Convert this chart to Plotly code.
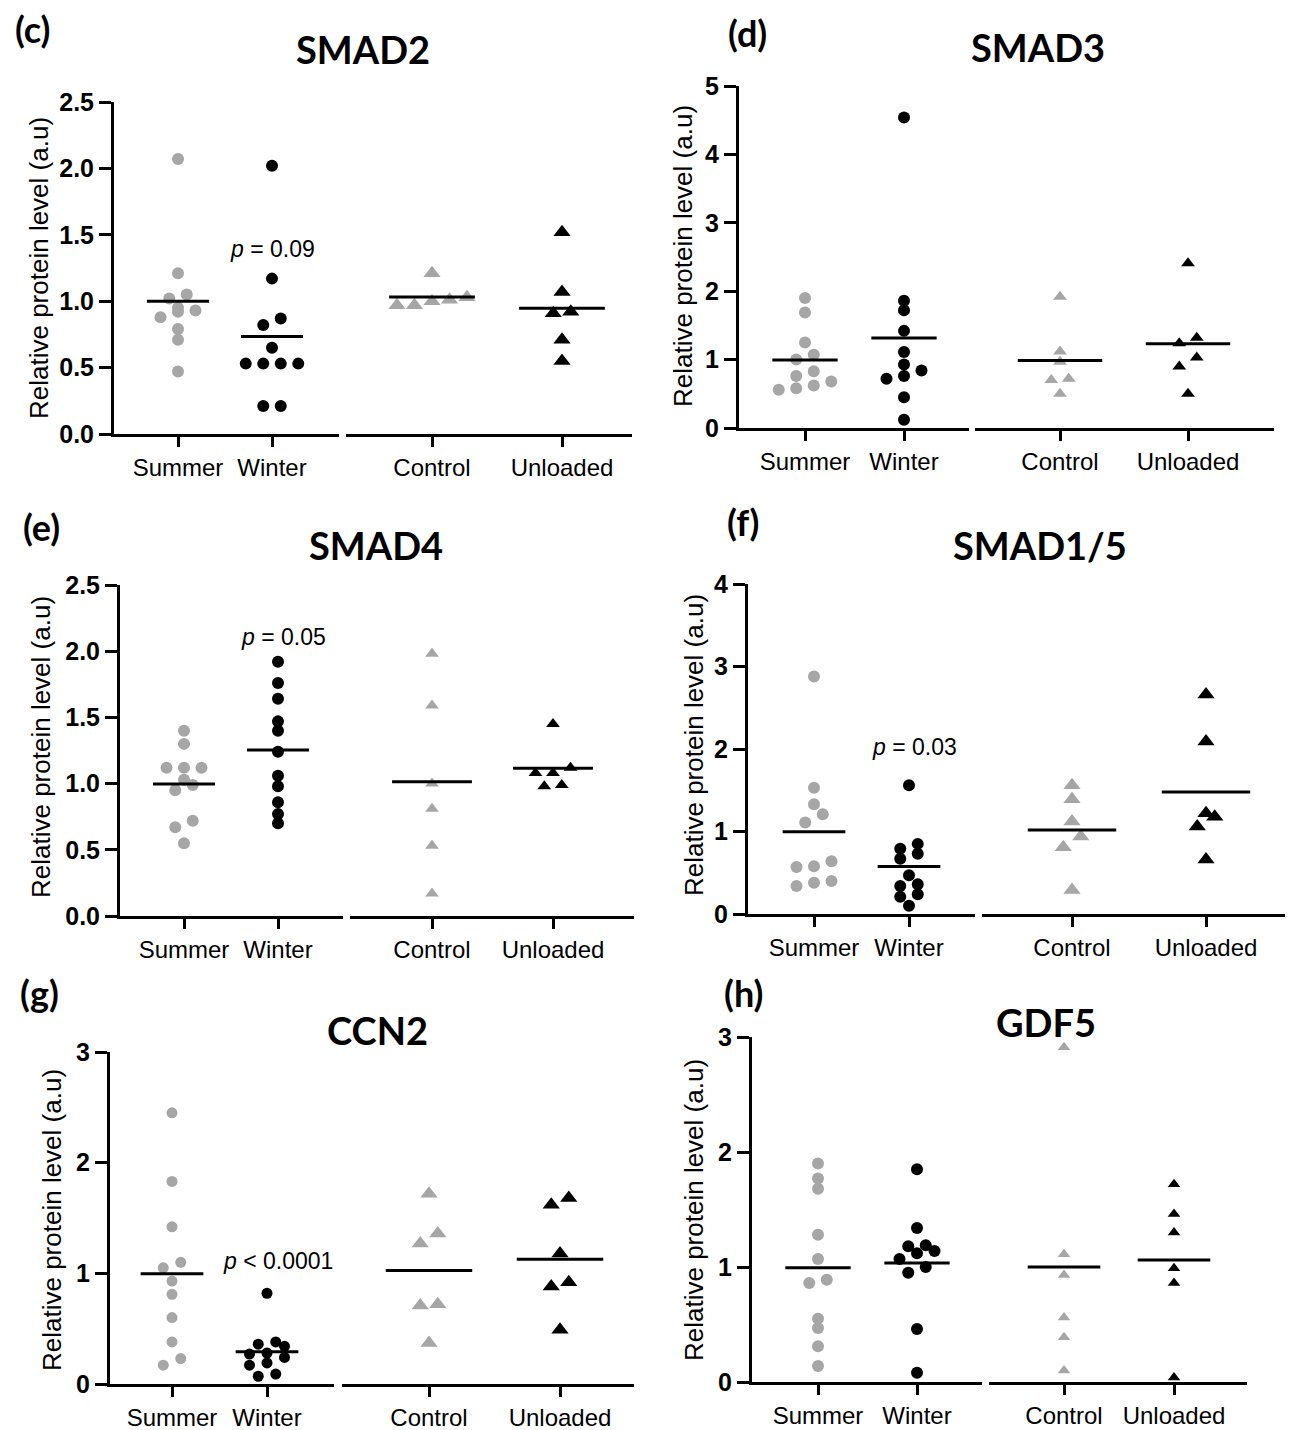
import numpy as np
import plotly.graph_objects as go

# ---------------- data ----------------
categories_left = ["Summer", "Winter"]
categories_right = ["Control", "Unloaded"]
proteins = ["SMAD2", "SMAD3", "SMAD4", "SMAD1/5", "CCN2", "GDF5"]
panel_letters = ["(c)", "(d)", "(e)", "(f)", "(g)", "(h)"]
p_labels = ["<i>p</i> = 0.09", None, "<i>p</i> = 0.05", "<i>p</i> = 0.03", "<i>p</i> < 0.0001", None]
p_label_y = [1.39, None, 2.11, 2.03, 1.11, None]
y_max = [2.5, 5, 2.5, 4, 3, 3]
y_dtick = [0.5, 1, 0.5, 1, 1, 1]
y_format = [".1f", "d", ".1f", "d", "d", "d"]

smad2_summer = [2.07, 1.21, 1.05, 1.02, 0.95, 0.92, 0.93, 0.88, 0.79, 0.71, 0.47]
smad2_winter = [2.02, 1.17, 0.87, 0.82, 0.65, 0.53, 0.53, 0.53, 0.53, 0.21, 0.21]
smad2_control = [1.21, 1.03, 0.97, 1.00, 1.01, 0.97]
smad2_unloaded = [1.52, 1.07, 0.91, 0.92, 0.71, 0.55]

smad3_summer = [1.90, 1.69, 1.25, 1.07, 1.00, 0.83, 0.76, 0.68, 0.62, 0.56, 0.58]
smad3_winter = [4.54, 1.86, 1.72, 1.42, 1.11, 0.93, 0.84, 0.76, 0.72, 0.45, 0.12]
smad3_control = [1.92, 1.12, 0.97, 0.72, 0.70, 0.50]
smad3_unloaded = [2.41, 1.32, 1.24, 1.03, 0.90, 0.50]

smad4_summer = [1.40, 1.30, 1.12, 1.12, 1.12, 1.03, 0.99, 0.95, 0.72, 0.67, 0.55]
smad4_winter = [1.92, 1.76, 1.64, 1.47, 1.40, 1.24, 1.06, 0.98, 0.86, 0.77, 0.70]
smad4_control = [1.98, 1.59, 1.00, 0.81, 0.53, 0.17]
smad4_unloaded = [1.45, 1.12, 1.08, 1.08, 0.98, 0.99]

smad15_summer = [2.88, 1.53, 1.33, 1.21, 1.11, 0.64, 0.58, 0.57, 0.40, 0.38, 0.34]
smad15_winter = [1.56, 0.85, 0.79, 0.73, 0.67, 0.47, 0.34, 0.36, 0.24, 0.21, 0.10]
smad15_control = [1.56, 1.39, 1.12, 0.94, 0.81, 0.29]
smad15_unloaded = [2.66, 2.09, 1.22, 1.18, 1.06, 0.66]

ccn2_summer = [2.45, 1.83, 1.42, 1.10, 1.05, 0.93, 0.81, 0.60, 0.38, 0.23, 0.17]
ccn2_winter = [0.82, 0.38, 0.36, 0.34, 0.28, 0.27, 0.24, 0.19, 0.17, 0.09, 0.07]
ccn2_control = [1.72, 1.36, 1.27, 0.72, 0.71, 0.37]
ccn2_unloaded = [1.68, 1.62, 1.18, 0.92, 0.88, 0.49]

gdf5_summer = [1.90, 1.77, 1.68, 1.28, 1.07, 0.89, 0.86, 0.55, 0.47, 0.31, 0.14]
gdf5_winter = [1.85, 1.34, 1.19, 1.18, 1.14, 1.12, 1.07, 1.00, 0.95, 0.46, 0.08]
gdf5_control = [2.91, 1.11, 0.93, 0.56, 0.39, 0.10]
gdf5_unloaded = [1.72, 1.46, 1.30, 0.99, 0.86, 0.04]

groups = [
    [smad2_summer, smad2_winter, smad2_control, smad2_unloaded],
    [smad3_summer, smad3_winter, smad3_control, smad3_unloaded],
    [smad4_summer, smad4_winter, smad4_control, smad4_unloaded],
    [smad15_summer, smad15_winter, smad15_control, smad15_unloaded],
    [ccn2_summer, ccn2_winter, ccn2_control, ccn2_unloaded],
    [gdf5_summer, gdf5_winter, gdf5_control, gdf5_unloaded],
]

# ---------------- layout (pixel geometry, in window pixels) ----------------
WIN_W, WIN_H = 1296, 1430
PAGE_MARGIN = 8                      # default <body> margin of the page
W, H = WIN_W - PAGE_MARGIN, WIN_H - PAGE_MARGIN
GRAY = "#a6a6a6"
BLACK = "#000000"
TICK_FONT = "Liberation Sans Narrow, Arial Narrow, Liberation Sans, Arial, sans-serif"
TEXT_FONT = "Liberation Sans, Arial, sans-serif"
TITLE_FONT = "Lato, Open Sans, sans-serif"

geom = [
    dict(ax=114, top=102, bot=434, ticks=[178, 272, 432, 562], lend=339, rs=346, re=632,
         title=(363, 49), label=(33, 29), ytitle=(39, 268), pdx=0.0, csize=12, tsize=15),
    dict(ax=739, top=86, bot=428, ticks=[805, 904, 1060, 1188], lend=969, rs=975, re=1274,
         title=(1038, 47), label=(747, 33), ytitle=(683, 256), pdx=0.0, csize=12, tsize=12),
    dict(ax=120, top=585, bot=916, ticks=[184, 278, 432, 553], lend=343, rs=350, re=634,
         title=(376, 545), label=(41, 527), ytitle=(41, 747), pdx=0.06, csize=12, tsize=12),
    dict(ax=748, top=584, bot=914, ticks=[814, 909, 1072, 1206], lend=975, rs=982, re=1285,
         title=(1040, 545), label=(743, 522), ytitle=(694, 745), pdx=0.06, csize=12, tsize=15),
    dict(ax=110, top=1052, bot=1384, ticks=[172, 267, 429, 560], lend=334, rs=342, re=634,
         title=(377, 1030), label=(39, 993), ytitle=(52, 1220), pdx=0.12, csize=11, tsize=15),
    dict(ax=752, top=1037, bot=1382, ticks=[818, 917, 1064, 1174], lend=982, rs=989, re=1247,
         title=(1046, 1022), label=(743, 993), ytitle=(694, 1210), pdx=0.0, csize=12, tsize=11),
]

MEAN_HALF = 0.33      # half length of mean bar, in category units
STEP_PX = 17.5        # horizontal spacing of swarmed points


def swarm(vals, px_per_y, px_per_x, diam):
    """Prism-like row layout: points whose values lie within ~one marker of each
    other share a row and are spread symmetrically around the category centre."""
    order = sorted(range(len(vals)), key=lambda i: vals[i])
    offs = [0.0] * len(vals)
    bins, cur = [], [order[0]]
    for i in order[1:]:
        if (vals[i] - vals[cur[0]]) * px_per_y < 0.75 * diam:
            cur.append(i)
        else:
            bins.append(cur)
            cur = [i]
    bins.append(cur)
    for b in bins:
        m = len(b)
        for k, i in enumerate(b):
            offs[i] = (k - (m - 1) / 2) * STEP_PX / px_per_x
    return offs


def px2x(p):
    return (p - PAGE_MARGIN) / W


def px2y(p):
    return 1 - (p - PAGE_MARGIN) / H


def ax_name(kind, n):
    return f"{kind}axis" if n == 1 else f"{kind}axis{n}"


def ax_ref(kind, n):
    return kind if n == 1 else f"{kind}{n}"


fig = go.Figure()
layout = dict(width=W, height=H, margin=dict(l=0, r=0, t=0, b=0, pad=0, autoexpand=False),
              template="none",
              paper_bgcolor="white", plot_bgcolor="white", showlegend=False,
              annotations=[])

for k, g in enumerate(geom):
    yn = k + 1
    xl, xr = 2 * k + 1, 2 * k + 2
    px_per_y = (g["bot"] - g["top"]) / y_max[k]
    ydom = [px2y(g["bot"]), px2y(g["top"])]

    layout[ax_name("y", yn)] = dict(
        domain=ydom, range=[0, y_max[k]], anchor=ax_ref("x", xl), automargin=False,
        tickmode="linear", tick0=0, dtick=y_dtick[k], tickformat=y_format[k],
        showline=True, linecolor=BLACK, linewidth=3, ticks="outside", ticklen=12,
        tickwidth=3, tickcolor=BLACK, showgrid=False, zeroline=False,
        tickfont=dict(family=TICK_FONT, size=25, color=BLACK, weight="bold"),
    )
    for side, (xn, c0, dstart, dend, cats) in enumerate([
        (xl, 0, g["ax"], g["lend"], categories_left),
        (xr, 2, g["rs"], g["re"], categories_right),
    ]):
        t0, t1 = g["ticks"][c0], g["ticks"][c0 + 1]
        scale = t1 - t0
        a = -(t0 - dstart) / scale
        b = a + (dend - dstart) / scale
        layout[ax_name("x", xn)] = dict(
            domain=[px2x(dstart), px2x(dend)], range=[a, b], anchor=ax_ref("y", yn),
            automargin=False,
            tickmode="array", tickvals=[0, 1], ticktext=cats,
            showline=True, linecolor=BLACK, linewidth=3, ticks="outside", ticklen=10,
            tickwidth=3, tickcolor=BLACK, showgrid=False, zeroline=False,
            tickfont=dict(family=TEXT_FONT, size=24, color=BLACK),
        )
        for j in range(2):
            vals = groups[k][c0 + j]
            is_tri = side == 1
            color = GRAY if j == 0 else BLACK
            size = g["tsize"] if is_tri else g["csize"]
            offs = swarm(vals, px_per_y, scale, size)
            fig.add_trace(go.Scatter(
                x=[j + o for o in offs], y=vals, mode="markers",
                xaxis=ax_ref("x", xn), yaxis=ax_ref("y", yn), cliponaxis=False,
                marker=dict(symbol="triangle-up" if is_tri else "circle",
                            size=size, color=color, line=dict(width=0)),
                hoverinfo="y",
            ))
            m = float(np.mean(vals))
            fig.add_trace(go.Scatter(
                x=[j - MEAN_HALF, j + MEAN_HALF], y=[m, m], mode="lines",
                xaxis=ax_ref("x", xn), yaxis=ax_ref("y", yn),
                line=dict(color=BLACK, width=3), hoverinfo="skip",
            ))

    layout["annotations"].append(dict(
        text=proteins[k], x=px2x(g["title"][0]), y=px2y(g["title"][1]),
        xref="paper", yref="paper", showarrow=False, xanchor="center", yanchor="middle",
        font=dict(family=TITLE_FONT, size=38, color=BLACK, weight="bold")))
    layout["annotations"].append(dict(
        text=panel_letters[k], x=px2x(g["label"][0]), y=px2y(g["label"][1]),
        xref="paper", yref="paper", showarrow=False, xanchor="center", yanchor="middle",
        font=dict(family=TITLE_FONT, size=36, color=BLACK, weight="bold")))
    layout["annotations"].append(dict(
        text="Relative protein level (a.u)", x=px2x(g["ytitle"][0]), y=px2y(g["ytitle"][1]),
        xref="paper", yref="paper", showarrow=False, textangle=-90,
        xanchor="center", yanchor="middle",
        font=dict(family=TEXT_FONT, size=26, color=BLACK)))
    if p_labels[k]:
        layout["annotations"].append(dict(
            text=p_labels[k], x=1 + g["pdx"], y=p_label_y[k],
            xref=ax_ref("x", xl), yref=ax_ref("y", yn), showarrow=False,
            xanchor="center", yanchor="middle",
            font=dict(family=TEXT_FONT, size=23, color=BLACK)))

fig.update_layout(**layout)
fig.write_html("out.html")
